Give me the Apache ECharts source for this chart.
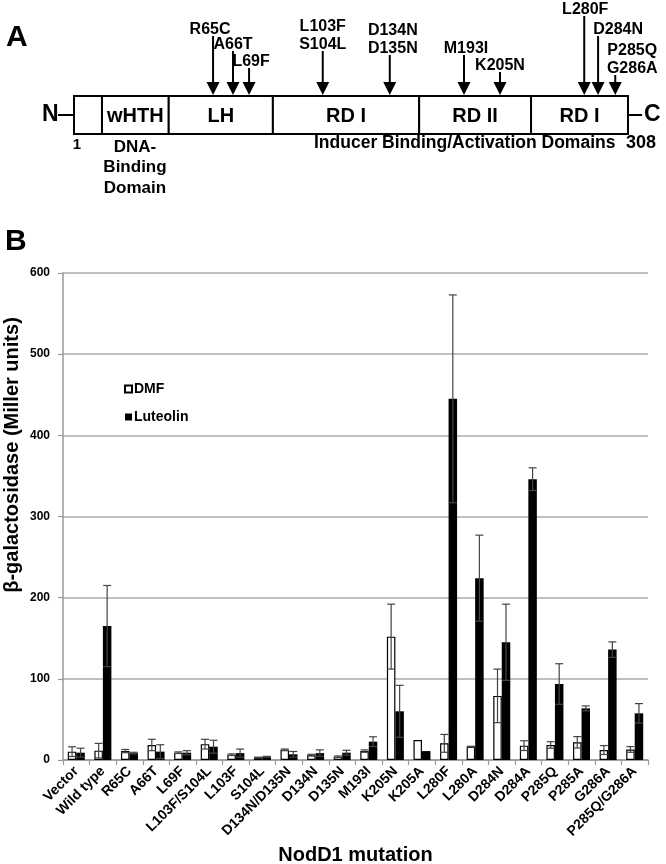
<!DOCTYPE html>
<html><head><meta charset="utf-8">
<script src="https://cdn.jsdelivr.net/npm/echarts@6/dist/echarts.min.js"></script>
<style>html,body{margin:0;padding:0;background:#fff}#c{width:666px;height:864px}</style>
</head><body><div id="c"></div>
<script>
// ---------- Panel B data ----------
const categories = ['Vector','Wild type','R65C','A66T','L69F','L103F/S104L','L103F','S104L','D134N/D135N','D134N','D135N','M193I','K205N','K205A','L280F','L280A','D284N','D284A','P285Q','P285A','G286A','P285Q/G286A'];
const dmfMean = [10.3, 11.5, 11, 18.5, 9, 19.5, 6.5, 3, 12.5, 6, 4, 11, 152, 24.6, 20.5, 16.4, 79, 17.7, 18.5, 21.8, 12.3, 13];
const dmfErr  = [6, 9, 2, 7, 1, 6, 1, 0.5, 1, 1, 1, 1.5, 40, 0, 11, 0.5, 33, 6, 4, 7, 5.5, 3.5];
const lutMean = [9, 165, 8.5, 10.3, 9, 16.4, 8.5, 4, 7, 8.5, 9, 22.6, 60, 11, 445, 224, 145, 346, 93.6, 63.6, 136, 57.5];
const lutErr  = [5.5, 50, 1, 8.5, 2.5, 8, 5, 0.5, 3.5, 4, 3, 6, 32, 0, 128, 53, 47, 14, 25, 3, 9.5, 12];
const yTicks = [0, 100, 200, 300, 400, 500, 600];

// ---------- Panel A data (schematic positions along the protein bar, 0-100) ----------
const domainNames = ['', 'wHTH', 'LH', 'RD I', 'RD II', 'RD I'];
const domainStart = [0, 5.05, 17.1, 35.9, 62.3, 82.5];
const domainEnd   = [5.05, 17.1, 35.9, 62.3, 82.5, 100];
const mutationLabels = [['R65C'],['A66T'],['L69F'],['L103F','S104L'],['D134N','D135N'],['M193I'],['K205N'],['L280F'],['D284N'],['P285Q','G286A']];
const mutationPos = [25.1, 28.7, 31.6, 44.9, 57.0, 70.4, 76.9, 92.1, 94.6, 97.7];

// ---------- layout / style ----------
const arrowLen = [59, 44, 27, 44, 40, 40, 23, 79, 59, 20];
const labelDx  = [-3, 0, 2, 0, 3, 2, 0, 1, 20, 17];
const BAR_W = 8.5;
const FONT = '"Liberation Sans", Arial, sans-serif';

const chart = echarts.init(document.getElementById('c'), null, {renderer: 'canvas'});

function errItem(offsetSign, errArr) {
  return function (params, api) {
    const i = params.dataIndex;
    const m = api.value(1), e = errArr[i];
    if (!e) return null;
    const c = api.coord([api.value(0), m]);
    const x = c[0] + offsetSign * BAR_W / 2;
    const hi = api.coord([api.value(0), m + e])[1];
    const lo = api.coord([api.value(0), Math.max(0, m - e)])[1];
    const cw = 4;
    const st = {stroke: '#444', lineWidth: 1.2};
    return {type: 'group', children: [
      {type: 'line', shape: {x1: x, y1: lo, x2: x, y2: hi}, style: st},
      {type: 'line', shape: {x1: x - cw, y1: hi, x2: x + cw, y2: hi}, style: st},
      {type: 'line', shape: {x1: x - cw, y1: lo, x2: x + cw, y2: lo}, style: st}
    ]};
  };
}

const option = {
  animation: false,
  backgroundColor: '#fff',
  textStyle: {fontFamily: FONT},
  grid: [
    {left: 63, right: 18, top: 273, bottom: 104, containLabel: false, outerBoundsMode: 'none'},
    {left: 74, width: 554, top: 96, height: 38, containLabel: false, outerBoundsMode: 'none'}
  ],
  legend: {
    data: ['DMF', 'Luteolin'],
    orient: 'vertical',
    left: 119, top: 377,
    itemWidth: 7, itemHeight: 7, itemGap: 14,
    icon: 'rect',
    textStyle: {fontFamily: FONT, fontWeight: 'bold', fontSize: 14, color: '#000', padding: [0, 0, 0, -3]}
  },
  xAxis: [
    {
      gridIndex: 0, type: 'category', data: categories,
      name: 'NodD1 mutation', nameLocation: 'middle', nameGap: 82,
      nameTextStyle: {fontFamily: FONT, fontWeight: 'bold', fontSize: 20, color: '#000'},
      axisLine: {show: true, lineStyle: {color: '#999', width: 1.5}},
      axisTick: {show: true, length: 5, lineStyle: {color: '#999', width: 1.2}},
      axisLabel: {rotate: 45, margin: 9, interval: 0, fontFamily: FONT, fontWeight: 'bold', fontSize: 14, color: '#000'},
      splitLine: {show: false}
    },
    {gridIndex: 1, type: 'value', min: 0, max: 100, show: false}
  ],
  yAxis: [
    {
      gridIndex: 0, type: 'value', min: yTicks[0], max: yTicks[yTicks.length - 1], interval: 100,
      axisLine: {show: true, lineStyle: {color: '#999', width: 1.5}},
      axisTick: {show: true, length: 5, lineStyle: {color: '#999', width: 1.2}},
      axisLabel: {margin: 13, fontFamily: FONT, fontWeight: 'bold', fontSize: 12, color: '#000'},
      splitLine: {show: true, lineStyle: {color: '#aaa', width: 1.5}}
    },
    {gridIndex: 1, type: 'value', min: 0, max: 1, show: false}
  ],
  series: [
    {
      name: 'DMF', type: 'bar', xAxisIndex: 0, yAxisIndex: 0,
      data: dmfMean, barWidth: BAR_W, barGap: '0%',
      itemStyle: {color: '#fff', borderColor: '#000', borderWidth: 1.2}
    },
    {
      name: 'Luteolin', type: 'bar', xAxisIndex: 0, yAxisIndex: 0,
      data: lutMean, barWidth: BAR_W, barGap: '0%',
      itemStyle: {color: '#000', borderColor: '#000', borderWidth: 0}
    },
    {
      type: 'custom', xAxisIndex: 0, yAxisIndex: 0, z: 5,
      data: categories.map((c, i) => [i, dmfMean[i]]),
      renderItem: errItem(-1, dmfErr), encode: {x: 0, y: 1}
    },
    {
      type: 'custom', xAxisIndex: 0, yAxisIndex: 0, z: 5,
      data: categories.map((c, i) => [i, lutMean[i]]),
      renderItem: errItem(1, lutErr), encode: {x: 0, y: 1}
    },
    // Panel A: domains
    {
      type: 'custom', xAxisIndex: 1, yAxisIndex: 1, silent: true,
      data: domainNames.map((n, i) => [domainStart[i], domainEnd[i]]),
      encode: {x: [0, 1]},
      renderItem: function (params, api) {
        const i = params.dataIndex;
        const p0 = api.coord([api.value(0), 1]);
        const p1 = api.coord([api.value(1), 0]);
        return {type: 'group', children: [
          {type: 'rect', shape: {x: p0[0], y: p0[1], width: p1[0] - p0[0], height: p1[1] - p0[1]},
           style: {fill: '#fff', stroke: '#000', lineWidth: 2}},
          {type: 'text', style: {text: domainNames[i], x: (p0[0] + p1[0]) / 2, y: (p0[1] + p1[1]) / 2 + 1,
            align: 'center', verticalAlign: 'middle', font: 'bold 20px ' + FONT, fill: '#000'}}
        ]};
      }
    },
    // Panel A: mutation arrows
    {
      type: 'custom', xAxisIndex: 1, yAxisIndex: 1, silent: true,
      data: mutationPos.map(p => [p, 1]),
      encode: {x: 0, y: 1},
      renderItem: function (params, api) {
        const i = params.dataIndex;
        const p = api.coord([api.value(0), api.value(1)]);
        const x = p[0], yTop = p[1] - 1;
        const tail = yTop - arrowLen[i];
        const hh = 13, hw = 6.5;
        const children = [
          {type: 'line', shape: {x1: x, y1: tail, x2: x, y2: yTop - hh + 1}, style: {stroke: '#000', lineWidth: 2}},
          {type: 'polygon', shape: {points: [[x - hw, yTop - hh], [x + hw, yTop - hh], [x, yTop]]}, style: {fill: '#000'}}
        ];
        const labels = mutationLabels[i];
        labels.forEach((t, k) => {
          const cy = tail - 6 - (labels.length - 1 - k) * 18.5;
          children.push({type: 'text', style: {text: t, x: x + labelDx[i], y: cy, align: 'center', verticalAlign: 'middle',
            font: 'bold 16px ' + FONT, fill: '#000'}});
        });
        return {type: 'group', children: children};
      }
    }
  ],
  graphic: [
    {type: 'text', left: 6, top: 23, style: {text: 'A', font: 'bold 30px ' + FONT, fill: '#000'}},
    {type: 'text', left: 5, top: 227, style: {text: 'B', font: 'bold 30px ' + FONT, fill: '#000'}},
    {type: 'text', left: 42, top: 103, style: {text: 'N', font: 'bold 23px ' + FONT, fill: '#000'}},
    {type: 'line', shape: {x1: 58, y1: 115, x2: 74, y2: 115}, style: {stroke: '#000', lineWidth: 2}},
    {type: 'line', shape: {x1: 628, y1: 115, x2: 642, y2: 115}, style: {stroke: '#000', lineWidth: 2}},
    {type: 'text', left: 644, top: 103, style: {text: 'C', font: 'bold 23px ' + FONT, fill: '#000'}},
    {type: 'text', x: 77, y: 145, style: {text: '1', font: 'bold 15px ' + FONT, fill: '#000', align: 'center', verticalAlign: 'middle'}},
    {type: 'text', x: 641, y: 143, style: {text: '308', font: 'bold 18px ' + FONT, fill: '#000', align: 'center', verticalAlign: 'middle'}},
    {type: 'text', x: 135, y: 147, style: {text: 'DNA-\nBinding\nDomain', font: 'bold 17px ' + FONT, fill: '#000', align: 'center', verticalAlign: 'top', lineHeight: 20.5, y: -10}},
    {type: 'text', x: 314, y: 143, style: {text: 'Inducer Binding/Activation Domains', font: 'bold 17.5px ' + FONT, fill: '#000', align: 'left', verticalAlign: 'middle'}},
    {type: 'text', x: 12, y: 455, rotation: Math.PI / 2, style: {text: 'β-galactosidase (Miller units)', font: 'bold 20px ' + FONT, fill: '#000', align: 'center', verticalAlign: 'middle'}}
  ]
};
chart.setOption(option);
</script>
</body></html>
